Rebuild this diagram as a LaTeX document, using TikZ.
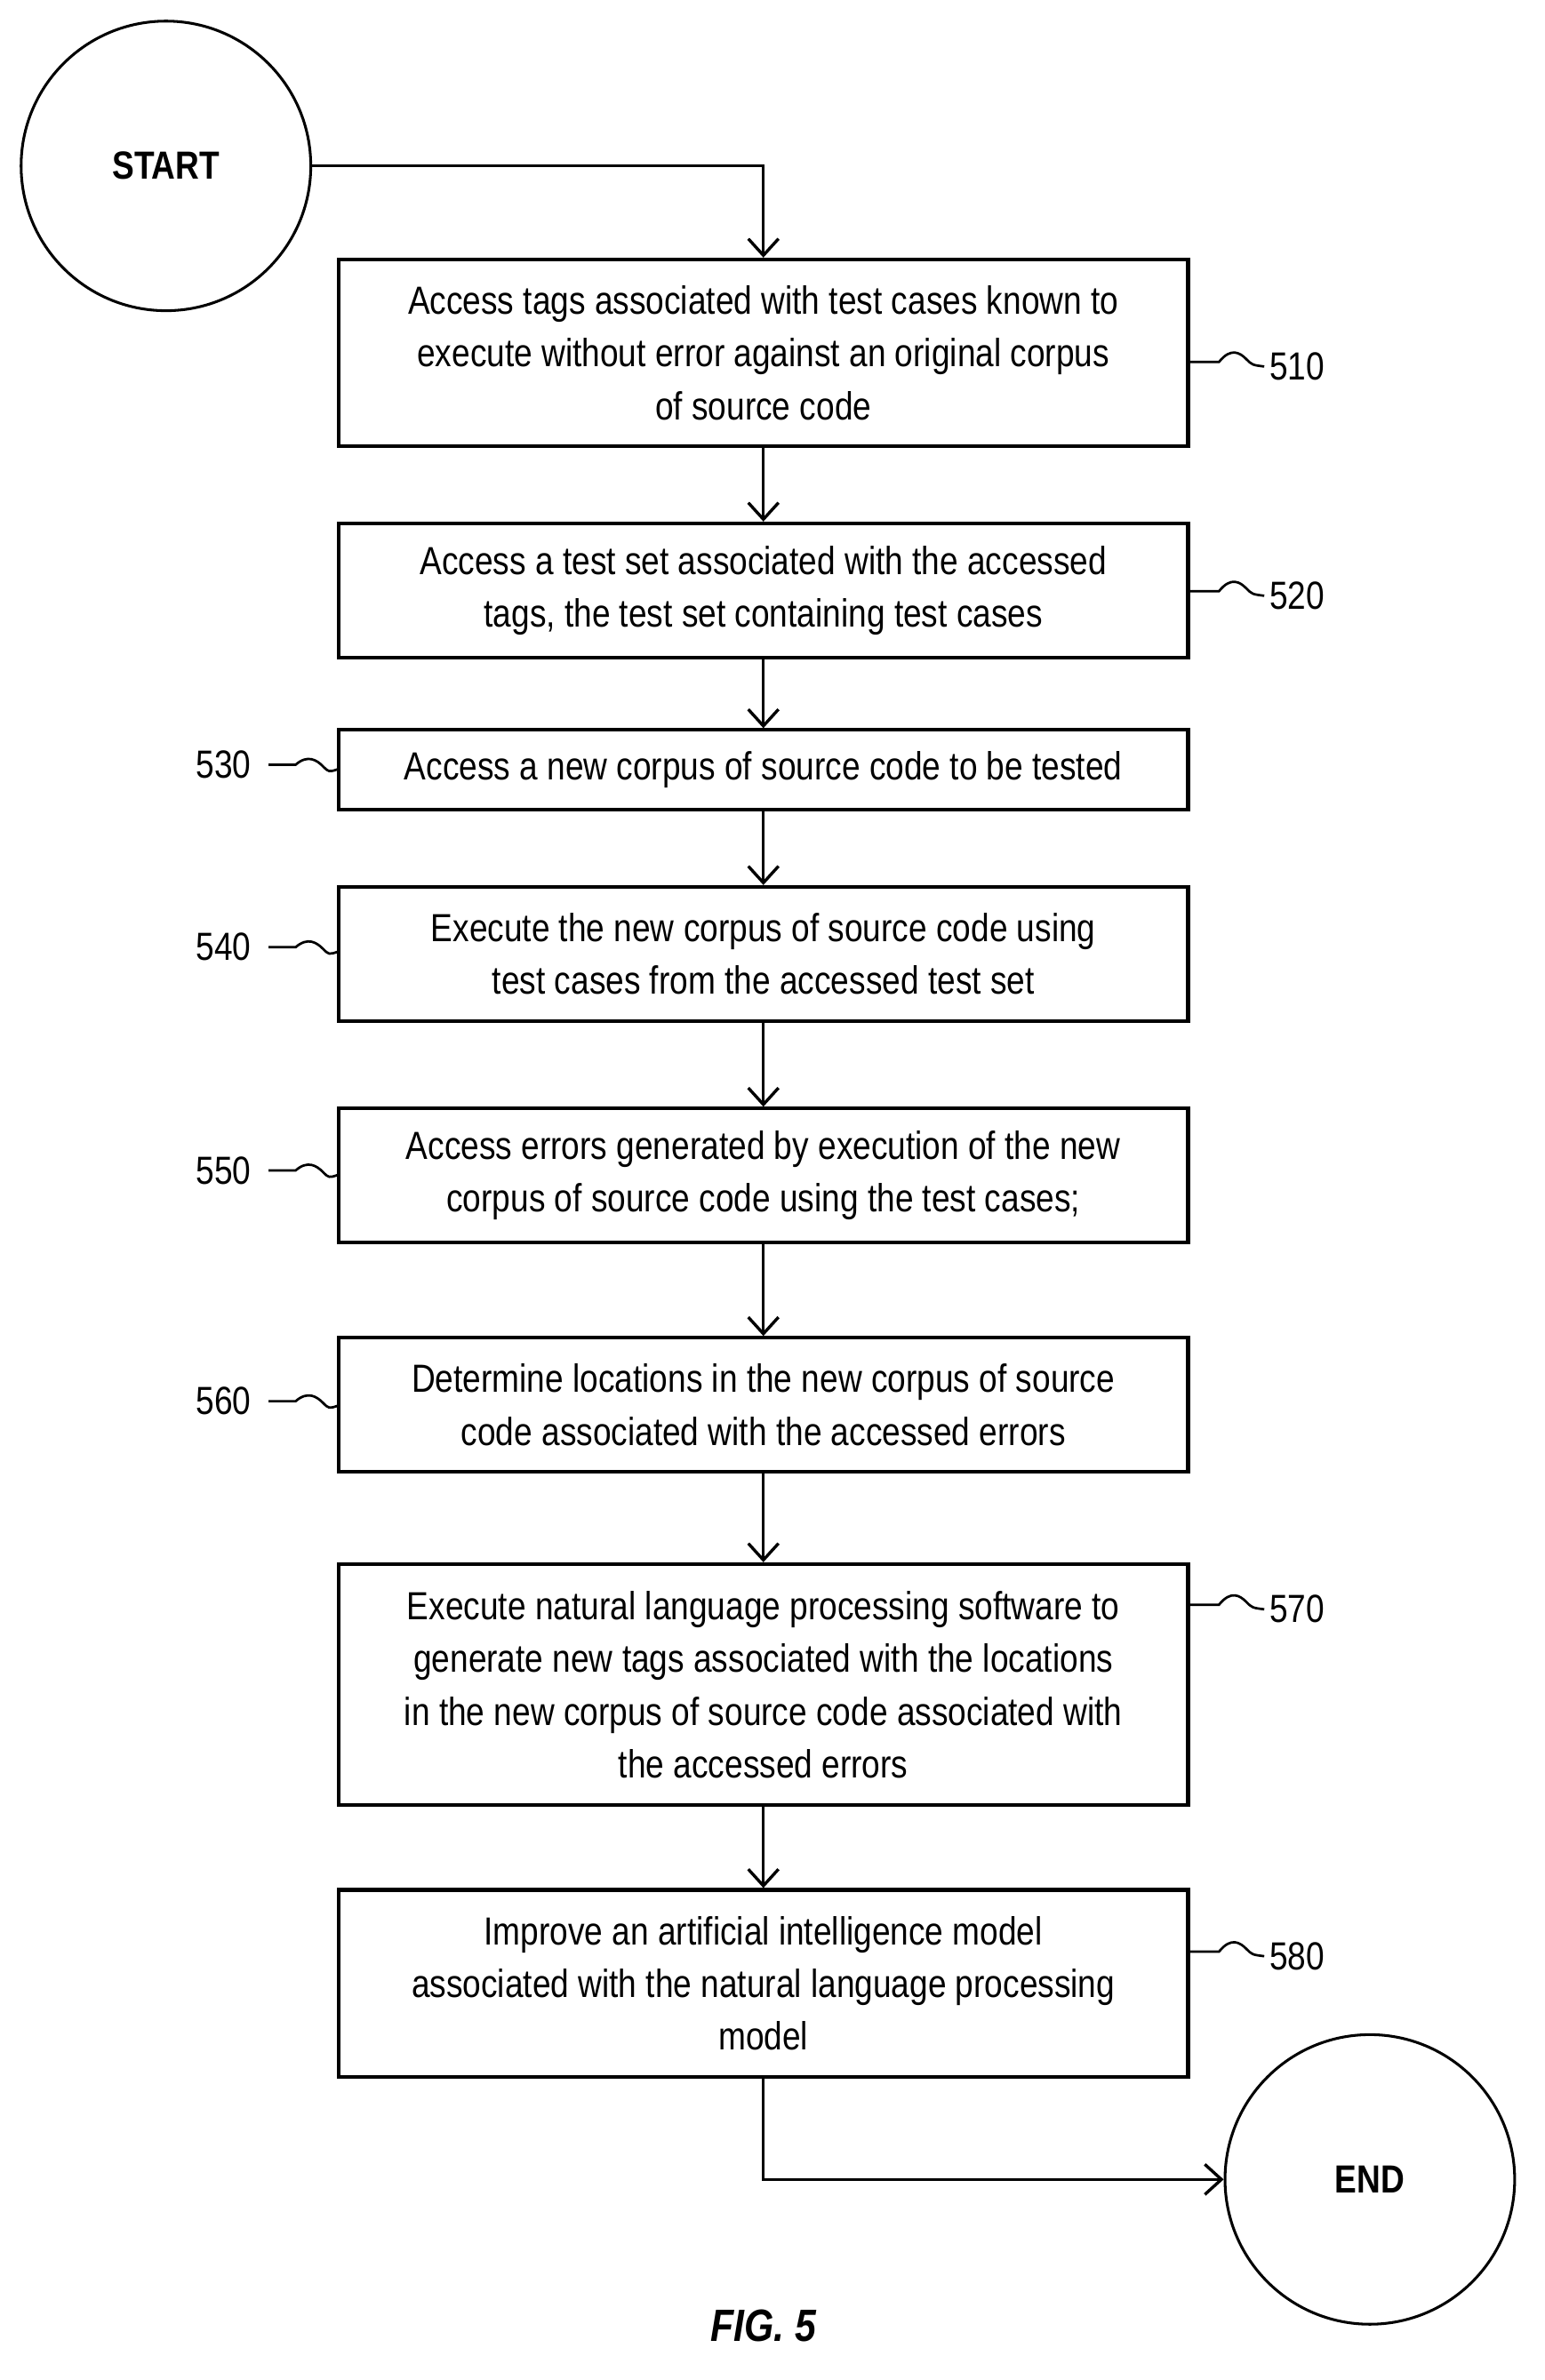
\documentclass[tikz,border=0pt]{standalone}
\usepackage{fontspec}
\setmainfont{Liberation Sans}[FakeStretch=0.84]
\usetikzlibrary{arrows.meta}
\begin{document}
\begin{tikzpicture}[x=1pt,y=-1pt,
 box/.style={draw,line width=2.4pt,minimum width=563pt,align=center,inner sep=0pt,font=\fontsize{26}{35}\selectfont},
 circ/.style={draw,circle,line width=1.8pt,minimum size=192pt,font=\fontsize{26}{30}\selectfont\bfseries},
 lab/.style={font=\fontsize{26}{30}\selectfont},
 arr/.style={line width=2pt,-{Straight Barb[length=11pt,width=20pt,line width=2pt]}},
 sq/.style={line width=1.6pt}]
\useasboundingbox (0,0) rectangle (1024,1578);
\node[circ] (start) at (110,110) {START};
\node[circ] (end) at (908,1445) {END};
\node[box,minimum height=124pt] (b510) at (506,234) {Access tags associated with test cases known to\\ execute without error against an original corpus\\ of source code};
\node[box,minimum height=89pt] (b520) at (506,391.5) {Access a test set associated with the accessed\\ tags, the test set containing test cases};
\node[box,minimum height=53pt] (b530) at (506,510.5) {Access a new corpus of source code to be tested};
\node[box,minimum height=89pt] (b540) at (506,632.5) {Execute the new corpus of source code using\\ test cases from the accessed test set};
\node[box,minimum height=89pt] (b550) at (506,779.5) {Access errors generated by execution of the new\\ corpus of source code using the test cases;};
\node[box,minimum height=89pt] (b560) at (506,931.5) {Determine locations in the new corpus of source\\ code associated with the accessed errors};
\node[box,minimum height=160pt] (b570) at (506,1117) {Execute natural language processing software to\\ generate new tags associated with the locations\\ in the new corpus of source code associated with\\ the accessed errors};
\node[box,minimum height=124pt] (b580) at (506,1315) {Improve an artificial intelligence model\\ associated with the natural language processing\\ model};
\coordinate (k) at (506,110);
\draw[arr] (start.east) -- (k) -- (b510.north);
\foreach \a/\b in {b510/b520,b520/b530,b530/b540,b540/b550,b550/b560,b560/b570,b570/b580}
  \draw[arr] (\a.south) -- (\b.north);
\coordinate (k2) at (506,1445);
\draw[arr] (b580.south) -- (k2) -- (end.west);
\node[lab,anchor=west] (l510) at (838,243) {510};
\node[lab,anchor=west] (l520) at (838,395) {520};
\node[lab,anchor=west] (l570) at (838,1067) {570};
\node[lab,anchor=west] (l580) at (838,1297) {580};
\node[lab,anchor=east] (l530) at (170,507) {530};
\node[lab,anchor=east] (l540) at (170,628) {540};
\node[lab,anchor=east] (l550) at (170,776) {550};
\node[lab,anchor=east] (l560) at (170,929) {560};
\foreach \n/\y in {510/240,520/392,570/1064,580/1294}
  \draw[sq] (787,\y) -- (808,\y) .. controls (816,\y-10) and (822,\y-6) .. (826,\y-2) .. controls (830,\y+2) .. (l\n.west);
\foreach \n/\y in {530/510,540/631,550/779,560/932}
  \draw[sq] (l\n.east) ++(8,0) -- (196,\y-3) .. controls (204,\y-10) and (210,\y-6) .. (214,\y-2) .. controls (218,\y+2) .. (224,\y);
\node[font=\fontsize{30}{34}\selectfont\bfseries\itshape] (fig) at (506,1542) {FIG. 5};
\end{tikzpicture}
\end{document}
